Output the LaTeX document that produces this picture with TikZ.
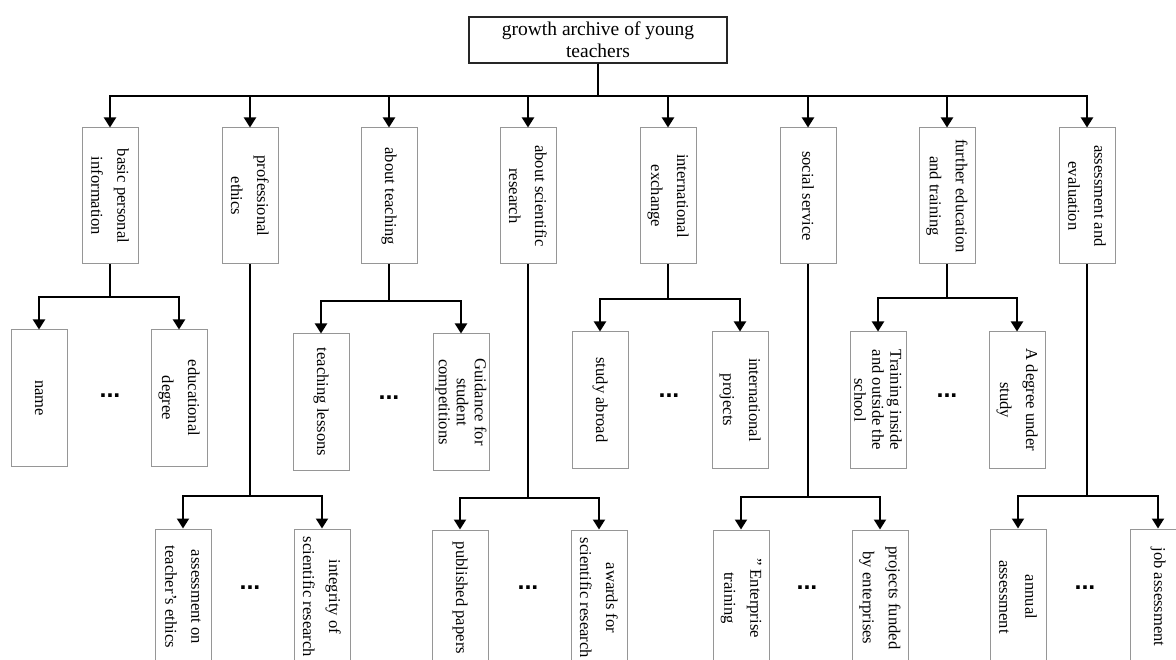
\documentclass[tikz,border=0pt]{standalone}
\usepackage{fontspec}
\setmainfont{Liberation Serif}
\setsansfont{Liberation Sans}
\usetikzlibrary{arrows.meta}
\begin{document}
\begin{tikzpicture}[x=1pt,y=-1pt,
  box/.style={draw={rgb,255:red,150;green,150;blue,150}, line width=1pt, fill=white,
    rotate=-90, minimum width=136pt, minimum height=56pt, inner sep=0pt,
    align=center, font=\fontsize{16.6}{26}\selectfont},
  tribox/.style={box, font=\fontsize{16.6}{18}\selectfont},
  rootbox/.style={draw=black!85, line width=1.2pt, fill=white, minimum width=258pt,
    minimum height=46pt, inner sep=0pt, align=center, font=\fontsize{19.5}{22}\selectfont},
  conn/.style={line width=2pt, -{Triangle[width=12pt,length=10pt]}},
  dots/.style={font=\sffamily\bfseries\fontsize{25}{25}\selectfont, inner sep=0pt}
]
\useasboundingbox (0,0) rectangle (1176,660);
\clip (0,0) rectangle (1176,660);

% root
\node[rootbox] (root) at (598,40) {growth archive of young\\teachers};

% level 1
\node[box] (n1) at (110,196) {basic personal\\information};
\node[box] (n2) at (250,196) {professional\\ethics};
\node[box] (n3) at (389,196) {about teaching};
\node[box] (n4) at (528,196) {about scientific\\research};
\node[box] (n5) at (668,196) {international\\exchange};
\node[box] (n6) at (808,196) {social service};
\node[box] (n7) at (947,196) {further education\\and training};
\node[box] (n8) at (1087,196) {assessment and\\evaluation};

\foreach \n in {n1,n2,n3,n4,n5,n6,n7,n8}
  \draw[conn] (root.south) -- ++(0,32) -| (\n.west);

% level 2, upper row
\node[box] (a1) at (39,398) {name};
\node[box] (a2) at (179,398) {educational\\degree};
\node[box] (c1) at (321,402) {teaching lessons};
\node[tribox] (c2) at (461,402) {Guidance for\\student\\competitions};
\node[box] (e1) at (600,400) {study abroad};
\node[box] (e2) at (740,400) {international\\projects};
\node[tribox] (g1) at (878,400) {Training inside\\and outside the\\school};
\node[box] (g2) at (1017,400) {A degree under\\study};

\draw[conn] (n1.east) -- ++(0,33) -| (a1.west);
\draw[conn] (n1.east) -- ++(0,33) -| (a2.west);
\draw[conn] (n3.east) -- ++(0,37) -| (c1.west);
\draw[conn] (n3.east) -- ++(0,37) -| (c2.west);
\draw[conn] (n5.east) -- ++(0,35) -| (e1.west);
\draw[conn] (n5.east) -- ++(0,35) -| (e2.west);
\draw[conn] (n7.east) -- ++(0,34) -| (g1.west);
\draw[conn] (n7.east) -- ++(0,34) -| (g2.west);

\node[dots] (d1) at (110,396) {...};
\node[dots] (d3) at (389,398) {...};
\node[dots] (d5) at (669,396) {...};
\node[dots] (d7) at (947,396) {...};

% level 2, lower row
\node[box] (b1) at (183,597) {assessment on\\teacher's ethics};
\node[box] (b2) at (322,597) {integrity of\\scientific research};
\node[box] (r1) at (460,598) {published papers};
\node[box] (r2) at (599,598) {awards for\\scientific research};
\node[box] (s1) at (741,598) {" Enterprise\\training};
\node[box] (s2) at (880,598) {projects funded\\by enterprises};
\node[box] (v1) at (1018,597) {annual\\assessment};
\node[box] (v2) at (1158,597) {job assessment};

\draw[conn] (n2.east) -- ++(0,231) -| (b1.west);
\draw[conn] (n2.east) -- ++(0,231) -| (b2.west);
\draw[conn] (n4.east) -- ++(0,233) -| (r1.west);
\draw[conn] (n4.east) -- ++(0,233) -| (r2.west);
\draw[conn] (n6.east) -- ++(0,232) -| (s1.west);
\draw[conn] (n6.east) -- ++(0,232) -| (s2.west);
\draw[conn] (n8.east) -- ++(0,231) -| (v1.west);
\draw[conn] (n8.east) -- ++(0,231) -| (v2.west);

\node[dots] (d2) at (250,588) {...};
\node[dots] (d4) at (528,588) {...};
\node[dots] (d6) at (807,588) {...};
\node[dots] (d8) at (1085,588) {...};
\end{tikzpicture}
\end{document}
